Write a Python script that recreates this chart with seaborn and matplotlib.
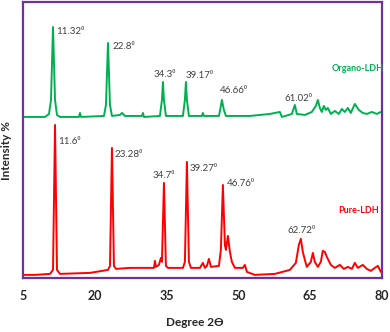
import pandas as pd
import matplotlib
matplotlib.use("Agg")
import matplotlib.pyplot as plt
import seaborn as sns

# Organo-LDH trace (2theta, intensity in arbitrary units)
organo_2theta = [5.21, 9.60, 10.43, 10.85, 11.27, 11.69, 12.10, 12.73, 16.70, 16.91, 17.12,
                 21.92, 22.34, 22.76, 23.18, 23.59, 25.26, 25.68, 26.31, 29.86, 30.07, 30.28,
                 33.62, 34.04, 34.25, 34.46, 34.87, 38.43, 38.84, 39.05, 39.26, 39.68,
                 42.40, 42.60, 42.81, 45.95, 46.36, 46.57, 46.99, 47.41, 52.42, 56.60,
                 58.69, 59.11, 61.20, 61.82, 62.24, 63.91, 65.37, 66.21, 66.63, 67.05,
                 67.46, 67.88, 68.30, 68.72, 69.34, 70.18, 71.02, 71.64, 72.27, 72.90,
                 73.52, 74.36, 75.19, 76.03, 76.87, 77.91, 78.96, 79.79]
organo_int = [161, 161, 164, 178, 251, 178, 163, 161, 161, 165, 161,
              162, 173, 235, 173, 162, 163, 165, 162, 162, 165, 161,
              162, 178, 196, 178, 162, 162, 178, 196, 178, 162,
              162, 165, 162, 162, 172, 178, 168, 162, 162, 164,
              166, 161, 164, 173, 164, 163, 166, 172, 178, 170,
              166, 172, 168, 170, 164, 167, 164, 169, 166, 170,
              165, 174, 168, 165, 164, 166, 164, 166]

# Pure-LDH trace
pure_2theta = [5.00, 7.51, 10.64, 11.27, 11.69, 12.10, 12.73, 19.00, 22.76, 23.18, 23.59,
               24.01, 24.43, 27.35, 31.53, 32.37, 32.58, 32.78, 33.41, 33.83, 34.04, 34.46,
               34.87, 35.29, 38.43, 38.84, 39.26, 39.68, 40.10, 41.98, 42.60, 43.02, 43.44,
               43.86, 44.28, 45.95, 46.36, 46.78, 47.20, 47.41, 47.83, 48.25, 48.66, 49.29,
               50.96, 51.38, 51.80, 53.47, 57.65, 60.78, 62.03, 62.66, 63.08, 63.49, 63.91,
               64.33, 65.17, 65.58, 66.00, 66.63, 67.25, 67.67, 68.09, 68.51, 69.34, 70.18,
               71.23, 72.06, 72.90, 73.73, 74.36, 74.99, 76.03, 76.87, 77.70, 78.54, 79.17,
               79.79]
pure_int = [3, 3, 4, 8, 153, 8, 4, 5, 8, 12, 130,
            12, 9, 10, 10, 10, 17, 11, 13, 20, 16, 95,
            12, 10, 10, 16, 116, 16, 10, 10, 15, 10, 12,
            19, 11, 12, 28, 93, 33, 28, 42, 26, 16, 10,
            10, 13, 6, 3, 4, 8, 15, 33, 39, 26, 18,
            11, 16, 25, 16, 11, 16, 27, 26, 21, 13, 10,
            13, 9, 11, 9, 15, 10, 13, 9, 7, 10, 12,
            6]

# peak labels: text, x, y
organo_labels = ["11.32⁰", "22.8⁰", "34.3⁰", "39.17⁰", "46.66⁰", "61.02⁰"]
organo_label_x = [11.89, 23.80, 32.37, 39.05, 46.15, 59.73]
organo_label_y = [246, 231, 203, 202, 187, 179]
pure_labels = ["11.6⁰", "23.28⁰", "34.7⁰", "39.27⁰", "46.76⁰", "62.72⁰"]
pure_label_x = [12.31, 24.22, 32.16, 39.89, 47.62, 60.36]
pure_label_y = [136, 123, 102, 109, 94, 47]

x_ticks = [5, 20, 35, 50, 65, 80]

green = "#00B050"
red = "#FF0000"
purple = "#7030A0"

sns.set_style("white")
plt.rcParams['font.family'] = ['Lato', 'DejaVu Sans']

organo_df = pd.DataFrame({'theta': organo_2theta, 'intensity': organo_int})
pure_df = pd.DataFrame({'theta': pure_2theta, 'intensity': pure_int})

fig = plt.figure(figsize=(3.9, 3.32), dpi=100)
ax = fig.add_axes([0.059, 0.163, 0.920, 0.831])

sns.lineplot(data=organo_df, x='theta', y='intensity', color=green, lw=1.4,
             estimator=None, sort=False, ax=ax)
sns.lineplot(data=pure_df, x='theta', y='intensity', color=red, lw=1.4,
             estimator=None, sort=False, ax=ax)

for t, x, y in zip(organo_labels, organo_label_x, organo_label_y):
    ax.text(x, y, t, fontsize=7, color="#404040", va='center', ha='left')
for t, x, y in zip(pure_labels, pure_label_x, pure_label_y):
    ax.text(x, y, t, fontsize=7, color="#404040", va='center', ha='left')

ax.text(69.55, 209, "Organo-LDH", fontsize=6.5, color=green, fontweight='bold',
        va='center', ha='left')
ax.text(70.81, 67, "Pure-LDH", fontsize=6.5, color=red, fontweight='bold',
        va='center', ha='left')

ax.set_xlim(5, 80)
ax.set_ylim(0, 276)
ax.set_xticks(x_ticks)
ax.set_xticklabels([str(v) for v in x_ticks], fontsize=9, fontweight='bold')
ax.set_yticks([])
ax.tick_params(axis='x', length=0, pad=9)

ax.set_xlabel("Degree 2Ɵ", fontsize=8.5, fontweight='bold', va='center')
ax.set_ylabel("Intensity %", fontsize=8.5, fontweight='bold')
ax.xaxis.set_label_coords(0.48, -0.163)
ax.yaxis.set_label_coords(-0.030, 0.46)

for s in ax.spines.values():
    s.set_color(purple)
    s.set_linewidth(1.6)

fig.savefig("out.png", dpi=100)
